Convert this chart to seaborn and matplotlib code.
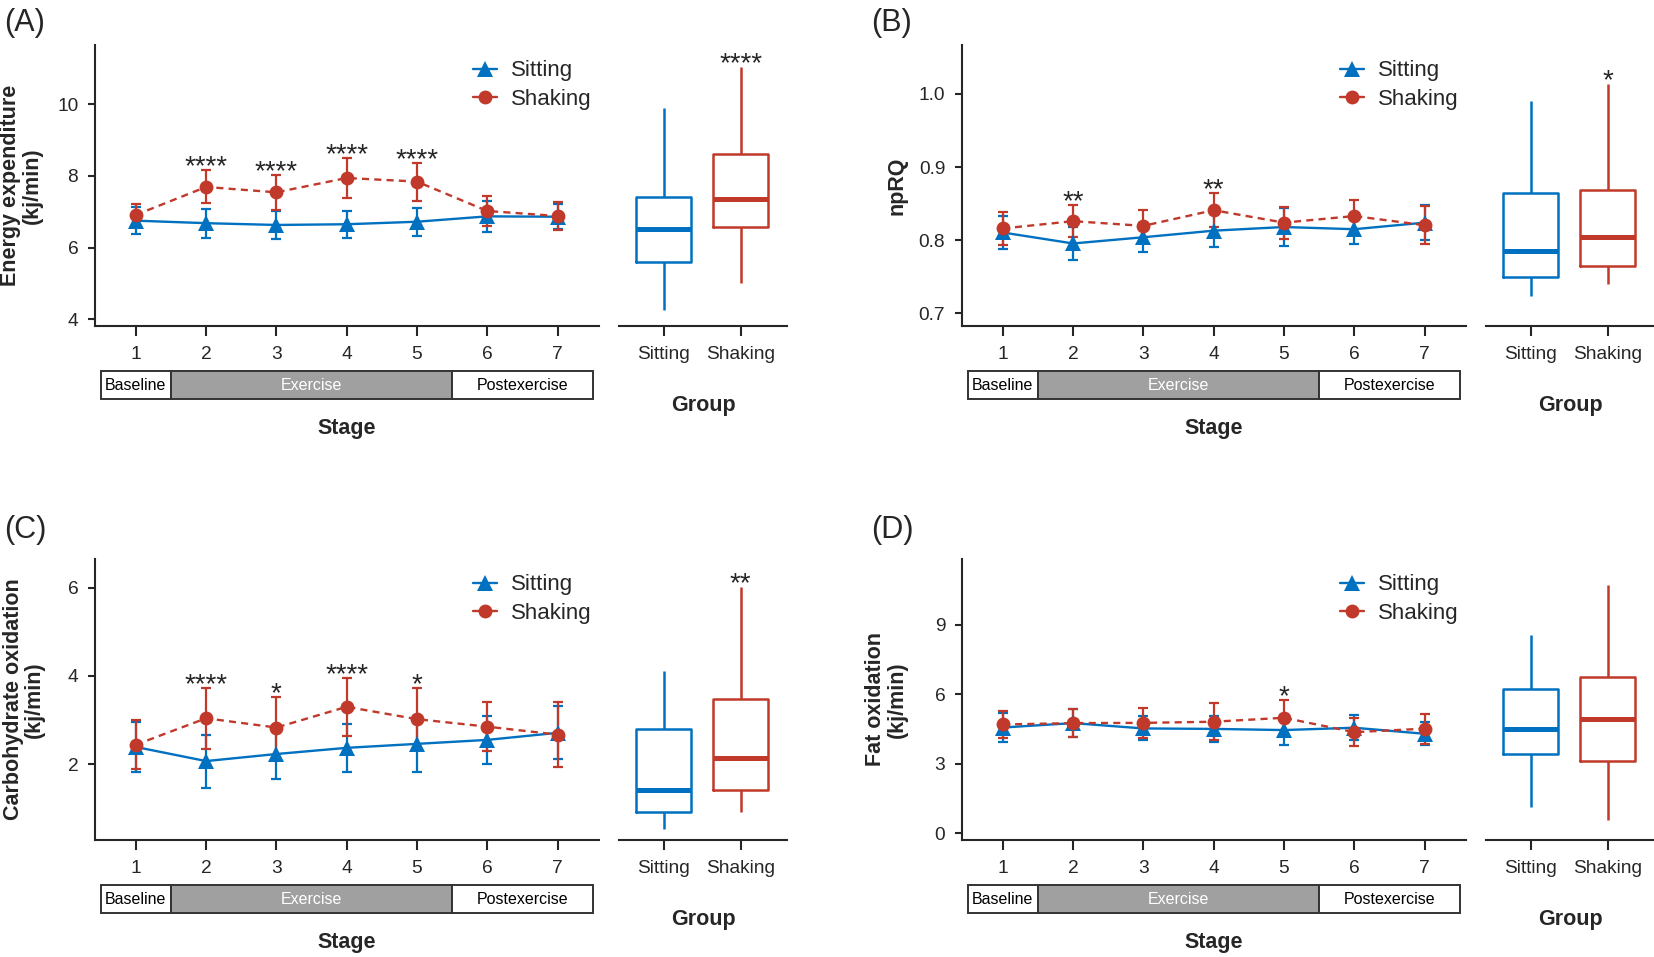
import numpy as np
import pandas as pd
import matplotlib
matplotlib.use("Agg")
import matplotlib.pyplot as plt
import matplotlib.transforms as mtransforms
from matplotlib.patches import Rectangle
from matplotlib.lines import Line2D
from matplotlib.ticker import FormatStrFormatter
import seaborn as sns

# ---------------- data ----------------
stages = [1, 2, 3, 4, 5, 6, 7]
groups = ["Sitting", "Shaking"]
phase_names = ["Baseline", "Exercise", "Postexercise"]
phase_first_stage = [1, 2, 6]
phase_last_stage = [1, 5, 7]

# (A) Energy expenditure
A_sit_mean = [6.75, 6.68, 6.63, 6.65, 6.72, 6.87, 6.86]
A_sit_sd = [0.38, 0.40, 0.40, 0.38, 0.39, 0.43, 0.35]
A_shk_mean = [6.91, 7.69, 7.54, 7.94, 7.84, 7.02, 6.88]
A_shk_sd = [0.31, 0.46, 0.49, 0.55, 0.53, 0.42, 0.39]
A_box_sit = [4.25, 5.59, 6.51, 7.42, 9.89]   # min, q1, median, q3, max
A_box_shk = [5.00, 6.58, 7.36, 8.61, 11.03]
A_stars = ["", "****", "****", "****", "****", "", ""]
A_box_star = "****"

# (B) npRQ
B_sit_mean = [0.8105, 0.7955, 0.804, 0.813, 0.818, 0.815, 0.824]
B_sit_sd = [0.022, 0.022, 0.020, 0.023, 0.026, 0.020, 0.024]
B_shk_mean = [0.816, 0.826, 0.8196, 0.841, 0.824, 0.833, 0.8205]
B_shk_sd = [0.023, 0.022, 0.022, 0.023, 0.022, 0.022, 0.026]
B_box_sit = [0.724, 0.749, 0.785, 0.865, 0.990]
B_box_shk = [0.740, 0.765, 0.805, 0.868, 1.014]
B_stars = ["", "**", "", "**", "", "", ""]
B_box_star = "*"

# (C) Carbohydrate oxidation
C_sit_mean = [2.39, 2.07, 2.23, 2.37, 2.46, 2.55, 2.71]
C_sit_sd = [0.57, 0.60, 0.57, 0.54, 0.64, 0.55, 0.60]
C_shk_mean = [2.44, 3.04, 2.83, 3.30, 3.02, 2.85, 2.67]
C_shk_sd = [0.55, 0.69, 0.69, 0.66, 0.70, 0.56, 0.73]
C_box_sit = [0.53, 0.91, 1.42, 2.80, 4.11]
C_box_shk = [0.91, 1.42, 2.13, 3.47, 6.02]
C_stars = ["", "****", "*", "****", "*", "", ""]
C_box_star = "**"

# (D) Fat oxidation
D_sit_mean = [4.57, 4.76, 4.53, 4.51, 4.46, 4.56, 4.30]
D_sit_sd = [0.63, 0.60, 0.52, 0.55, 0.64, 0.55, 0.50]
D_shk_mean = [4.70, 4.76, 4.77, 4.82, 4.99, 4.37, 4.52]
D_shk_sd = [0.59, 0.60, 0.64, 0.80, 0.77, 0.61, 0.64]
D_box_sit = [1.16, 3.41, 4.50, 6.22, 8.58]
D_box_shk = [0.60, 3.12, 4.93, 6.75, 10.70]
D_stars = ["", "", "", "", "*", "", ""]
D_box_star = ""

# ---------------- style ----------------
sns.set_theme(style="ticks")
plt.rcParams["font.family"] = ["Liberation Sans", "DejaVu Sans"]
plt.rcParams["axes.linewidth"] = 1.5

BLUE = "#0070C0"
RED = "#C0392B"
palette = {"Sitting": BLUE, "Shaking": RED}

W, H = 1654, 957
fig = plt.figure(figsize=(W / 100, H / 100), dpi=100)


def rect(l, t, r, b):
    return [l / W, 1 - b / H, (r - l) / W, (b - t) / H]


panels = [
    dict(tag="(A)", label="Energy expenditure\n(kj/min)", sit_m=A_sit_mean, sit_s=A_sit_sd,
         shk_m=A_shk_mean, shk_s=A_shk_sd, box_sit=A_box_sit, box_shk=A_box_shk,
         stars=A_stars, box_star=A_box_star, ylim=(3.82, 11.65), yticks=[4, 6, 8, 10],
         fmt="%d", ox=0, oy=0, ylx=-0.146),
    dict(tag="(B)", label="npRQ", sit_m=B_sit_mean, sit_s=B_sit_sd,
         shk_m=B_shk_mean, shk_s=B_shk_sd, box_sit=B_box_sit, box_shk=B_box_shk,
         stars=B_stars, box_star=B_box_star, ylim=(0.683, 1.067), yticks=[0.7, 0.8, 0.9, 1.0],
         fmt="%.1f", ox=867, oy=0, ylx=-0.128),
    dict(tag="(C)", label="Carbohydrate oxidation\n(kj/min)", sit_m=C_sit_mean, sit_s=C_sit_sd,
         shk_m=C_shk_mean, shk_s=C_shk_sd, box_sit=C_box_sit, box_shk=C_box_shk,
         stars=C_stars, box_star=C_box_star, ylim=(0.288, 6.65), yticks=[2, 4, 6],
         fmt="%d", ox=0, oy=514, ylx=-0.141),
    dict(tag="(D)", label="Fat oxidation\n(kj/min)", sit_m=D_sit_mean, sit_s=D_sit_sd,
         shk_m=D_shk_mean, shk_s=D_shk_sd, box_sit=D_box_sit, box_shk=D_box_shk,
         stars=D_stars, box_star=D_box_star, ylim=(-0.27, 11.84), yticks=[0, 3, 6, 9],
         fmt="%d", ox=867, oy=514, ylx=-0.150),
]

TICK_FS = 13.8
LAB_FS = 15.5
STAR_FS = 20

for p in panels:
    ox, oy = p["ox"], p["oy"]
    ax = fig.add_axes(rect(95 + ox, 45 + oy, 599 + ox, 325.7 + oy))
    axb = fig.add_axes(rect(619 + ox, 45 + oy, 787 + ox, 325.7 + oy))

    df = pd.DataFrame({
        "stage": stages * 2,
        "mean": list(p["sit_m"]) + list(p["shk_m"]),
        "sd": list(p["sit_s"]) + list(p["shk_s"]),
        "group": ["Sitting"] * 7 + ["Shaking"] * 7,
    })

    for g, mk, ms in [("Sitting", "^", 11), ("Shaking", "o", 10)]:
        sub = df[df["group"] == g]
        ax.errorbar(sub["stage"], sub["mean"], yerr=sub["sd"], fmt="none",
                    ecolor=palette[g], elinewidth=1.6, capsize=3.5, capthick=1.6, zorder=2)
        sns.lineplot(data=sub, x="stage", y="mean", color=palette[g], marker=mk,
                     markersize=ms, markeredgewidth=0, linewidth=1.7,
                     linestyle="-" if g == "Sitting" else (0, (3, 2.2)),
                     ax=ax, legend=False, zorder=3)

    # significance stars
    for st, m, s, txt in zip(stages, p["shk_m"], p["shk_s"], p["stars"]):
        if txt:
            ax.annotate(txt, xy=(st, m + s), xytext=(0, -3), textcoords="offset points",
                        ha="center", va="baseline", fontsize=STAR_FS)

    ax.set_xlim(0.42, 7.59)
    ax.set_ylim(*p["ylim"])
    ax.set_xticks(stages)
    ax.set_yticks(p["yticks"])
    ax.yaxis.set_major_formatter(FormatStrFormatter(p["fmt"]))
    sns.despine(ax=ax)
    ax.tick_params(axis="x", length=7, width=1.5, pad=7.5, labelsize=TICK_FS)
    ax.tick_params(axis="y", length=5, width=1.5, pad=7, labelsize=TICK_FS)
    ax.set_ylabel(p["label"], fontsize=LAB_FS, fontweight="bold", va="center",
                  linespacing=1.0)
    ax.yaxis.set_label_coords(p["ylx"], 0.5)
    ax.set_xlabel("Stage", fontsize=LAB_FS, fontweight="bold", va="center")
    ax.xaxis.set_label_coords(0.5, -0.365)

    # legend
    handles = [
        Line2D([], [], color=BLUE, marker="^", markersize=11, markeredgewidth=0, lw=1.7),
        Line2D([], [], color=RED, marker="o", markersize=10, markeredgewidth=0, lw=1.7),
    ]
    ax.legend(handles, groups, loc="upper left", bbox_to_anchor=(0.75, 0.945),
              frameon=False, fontsize=16, handlelength=1.1, handletextpad=0.6,
              labelspacing=0.35, borderpad=0, borderaxespad=0)

    # stage phase bar
    trans = mtransforms.blended_transform_factory(ax.transData, ax.transAxes)
    y0, y1 = -0.262, -0.161
    for name, a, b in zip(phase_names, phase_first_stage, phase_last_stage):
        face = "#A0A0A0" if name == "Exercise" else "white"
        tcol = "white" if name == "Exercise" else "black"
        ax.add_patch(Rectangle((a - 0.5, y0), (b - a) + 1.0, y1 - y0, transform=trans,
                               facecolor=face, edgecolor="#333333", lw=1.4, clip_on=False))
        ax.text((a + b) / 2, (y0 + y1) / 2, name, transform=trans, ha="center",
                va="center", fontsize=11.5, color=tcol)

    # box plot
    dfb = pd.DataFrame({
        "group": ["Sitting"] * 5 + ["Shaking"] * 5,
        "value": list(p["box_sit"]) + list(p["box_shk"]),
    })
    sns.boxplot(data=dfb, x="group", y="value", hue="group", order=groups,
                hue_order=groups, palette=palette, fill=False, whis=(0, 100),
                width=0.71, linewidth=1.8, showcaps=False, legend=False,
                medianprops=dict(linewidth=3.6), ax=axb)
    if p["box_star"]:
        axb.annotate(p["box_star"], xy=(1, p["box_shk"][-1]), xytext=(0, -3),
                     textcoords="offset points", ha="center", va="baseline",
                     fontsize=STAR_FS)
    axb.set_ylim(*p["ylim"])
    axb.set_xlim(-0.58, 1.6)
    axb.set_yticks([])
    axb.set_ylabel("")
    sns.despine(ax=axb, left=True)
    axb.tick_params(axis="x", length=7, width=1.5, pad=7.5, labelsize=TICK_FS)
    axb.set_xlabel("Group", fontsize=LAB_FS, fontweight="bold", va="center")
    axb.xaxis.set_label_coords(0.5, -0.285)

    fig.text((4 + ox) / W, 1 - (23.5 + oy - (7.5 if oy else 0)) / H, p["tag"],
             fontsize=22, va="center", ha="left")

fig.savefig("out.png", dpi=100)
